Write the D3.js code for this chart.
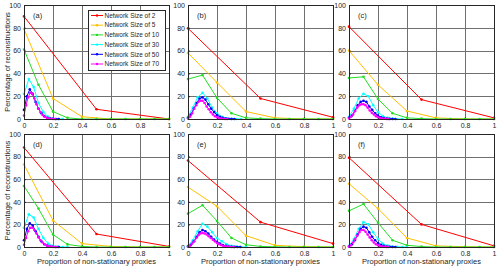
<!DOCTYPE html>
<html><head><meta charset="utf-8">
<script src="https://cdn.jsdelivr.net/npm/d3@7"></script>
<style>body{margin:0;background:#fff}svg{display:block}text{font-family:"Liberation Sans",Arial,sans-serif}</style>
</head><body>
<svg id="c" width="500" height="268"></svg>
<script>
const sizes = [2, 5, 10, 30, 50, 70];
const seriesNames = sizes.map(n => "Network Size of " + n);
const colors = ["#ff0000", "#ffc000", "#22dd22", "#00ffff", "#0000ff", "#ff00ff"];
const panelLabels = ["(a)", "(b)", "(c)", "(d)", "(e)", "(f)"];
const xTicks = [0, 0.2, 0.4, 0.6, 0.8, 1];
const xTickLabels = ["0", "0.2", "0.4", "0.6", "0.8", "1"];
const yTicks = [0, 20, 40, 60, 80, 100];

// values per panel, per network size; the i-th value is at proportion i/N
const panelA = [
  [90, 8.5, 0],
  [79, 18, 2, 0, 0, 0],
  [61, 30, 6.5, 1, 0, 0, 0, 0, 0, 0, 0],
  [22, 35, 28, 14, 6, 2, 0.5, 0, 0],
  [8, 20, 26, 22, 15, 9, 5, 2.5, 1, 0.5, 0.2, 0, 0],
  [3, 12, 19, 23, 22, 18, 13, 9, 6, 3.5, 2, 1, 0.5, 0.2, 0, 0]
];
const panelB = [
  [79.5, 18, 1.5],
  [58, 32, 6.5, 1, 0, 0],
  [35, 38.5, 18.5, 5, 1, 0.3, 0, 0, 0, 0, 0],
  [2, 10, 19, 23, 18, 10, 5, 2, 0.7, 0.2, 0, 0],
  [1, 4, 9, 14, 18, 19, 17, 13, 9, 6, 3.5, 2, 1, 0.5, 0.2, 0, 0],
  [0.5, 2, 5, 9, 12, 15, 16, 16, 14, 11, 8.5, 6, 4, 2.5, 1.5, 0.8, 0.4, 0.2, 0, 0]
];
const panelC = [
  [81, 17, 1],
  [60, 30, 7, 1, 0, 0],
  [36, 37, 17.5, 5, 1, 0.3, 0, 0, 0, 0, 0],
  [2, 9, 18, 22, 20, 12, 6, 2.5, 1, 0.3, 0, 0],
  [1, 3, 7, 12, 15, 16, 15, 11, 8, 5, 3, 1.5, 0.8, 0.3, 0.1, 0, 0],
  [0.5, 2, 4, 7, 10, 12, 13, 13, 12, 10, 7.5, 5.5, 4, 2.5, 1.5, 0.8, 0.4, 0.2, 0, 0]
];
const panelD = [
  [88, 11.5, 0.5],
  [73, 23.5, 3, 0.5, 0, 0],
  [54, 34, 11, 2.3, 0.5, 0, 0, 0, 0, 0, 0],
  [17, 29, 26, 16, 8, 3, 1, 0.3, 0, 0],
  [6, 16, 21, 19, 14, 9, 5, 2.5, 1.2, 0.5, 0.2, 0, 0],
  [2, 8, 14, 17, 17, 15, 12, 8.5, 6, 4, 2.5, 1.3, 0.7, 0.3, 0.1, 0, 0]
];
const panelE = [
  [76.5, 22, 3],
  [53, 36, 10, 1.5, 0.3, 0],
  [29.5, 37, 23, 8, 2, 0.5, 0.2, 0, 0, 0, 0],
  [1, 6, 14, 20.5, 18, 13, 8, 5, 2.5, 1, 0.4, 0, 0],
  [0.5, 2, 5, 9, 13, 15, 14, 12, 9, 6.5, 4.5, 3, 1.8, 1, 0.5, 0.2, 0.1, 0, 0],
  [0.2, 1, 3, 5, 8, 10.5, 12, 12.5, 12, 11, 9.5, 8, 6.5, 5, 3.5, 2.5, 1.7, 1, 0.6, 0.3, 0.2, 0, 0]
];
const panelF = [
  [79, 20, 1],
  [56, 34, 8, 1, 0.2, 0],
  [32, 38, 21.5, 6, 1.5, 0.4, 0, 0, 0, 0, 0],
  [1, 7, 16, 22, 20, 13, 7, 3, 1.2, 0.5, 0.2, 0, 0],
  [0.5, 2.5, 6, 11, 16, 18, 17, 13, 9, 6, 3.5, 2, 1, 0.5, 0.2, 0, 0],
  [0.3, 1.5, 4, 7, 10, 13, 15, 15, 13.5, 11, 8.5, 6, 4, 2.5, 1.5, 0.8, 0.4, 0.2, 0, 0]
];
const panels = [panelA, panelB, panelC, panelD, panelE, panelF];

const svg = d3.select("#c");
const colX = [24, 188, 349], pw = 145;
const rowY = [5, 134], ph = [114, 113];

panels.forEach((pdata, pi) => {
  const col = pi % 3, row = Math.floor(pi / 3);
  const x0 = colX[col], y0 = rowY[row], h = ph[row];
  const x = d3.scaleLinear().domain([0, 1]).range([x0, x0 + pw]);
  const y = d3.scaleLinear().domain([0, 100]).range([y0 + h, y0]);
  const g = svg.append("g");
  // grid
  g.selectAll(".gx").data(xTicks.slice(1, -1)).join("line")
    .attr("x1", d => Math.round(x(d)) + 0.5).attr("x2", d => Math.round(x(d)) + 0.5).attr("y1", y0).attr("y2", y0 + h)
    .attr("stroke", "#707070").attr("stroke-width", 1);
  g.selectAll(".gy").data(yTicks.slice(1, -1)).join("line")
    .attr("y1", d => Math.round(y(d)) + 0.5).attr("y2", d => Math.round(y(d)) + 0.5).attr("x1", x0).attr("x2", x0 + pw)
    .attr("stroke", "#707070").attr("stroke-width", 1);
  // axes
  const ax = g.append("g").attr("transform", `translate(0,${y0 + h})`)
    .call(d3.axisBottom(x).tickValues(xTicks).tickFormat((d, i) => xTickLabels[i]).tickSizeInner(-2).tickSizeOuter(0).tickPadding(4));
  const ay = g.append("g").attr("transform", `translate(${x0},0)`)
    .call(d3.axisLeft(y).tickValues(yTicks).tickSizeInner(-2).tickSizeOuter(0).tickPadding(3));
  [ax, ay].forEach(a => {
    a.select(".domain").remove();
    a.selectAll("text").attr("font-size", 7).attr("fill", "#262626");
    a.selectAll("line").attr("stroke", "#262626");
  });
  // series
  pdata.forEach((vals, si) => {
    const n = sizes[si];
    const pts = vals.map((v, i) => [i / n, v]);
    const line = d3.line().x(d => x(d[0])).y(d => y(d[1]));
    g.append("path").attr("d", line(pts)).attr("fill", "none")
      .attr("stroke", colors[si]).attr("stroke-width", 1);
    g.selectAll(".m" + si).data(pts).join("circle")
      .attr("cx", d => x(d[0])).attr("cy", d => y(d[1])).attr("r", 1.3)
      .attr("fill", colors[si]);
  });
  // box
  g.append("rect").attr("x", x0 + 0.5).attr("y", y0 + 0.5).attr("width", pw).attr("height", h)
    .attr("fill", "none").attr("stroke", "#262626").attr("stroke-width", 1);
  g.append("text").attr("x", x0 + 9).attr("y", y0 + 13).attr("font-size", 7.5)
    .attr("fill", "#262626").text(panelLabels[pi]);
  if (row === 1) {
    g.append("text").attr("x", x0 + pw / 2).attr("y", y0 + h + 17).attr("text-anchor", "middle")
      .attr("font-size", 7.5).attr("fill", "#262626").text("Proportion of non-stationary proxies");
  }
  if (col === 0) {
    g.append("text").attr("transform", `translate(10,${y0 + h / 2}) rotate(-90)`)
      .attr("text-anchor", "middle").attr("font-size", 7.5).attr("fill", "#262626")
      .text("Percentage of reconstructions");
  }
  if (pi === 0) {
    const lg = g.append("g");
    lg.append("rect").attr("x", 88.5).attr("y", 10.5).attr("width", 77).attr("height", 60)
      .attr("fill", "#fff").attr("stroke", "#262626").attr("stroke-width", 1);
    seriesNames.forEach((nm, si) => {
      const ly = 15.5 + si * 9.7;
      lg.append("line").attr("x1", 91).attr("x2", 103).attr("y1", ly).attr("y2", ly)
        .attr("stroke", colors[si]).attr("stroke-width", 1);
      lg.append("circle").attr("cx", 97).attr("cy", ly).attr("r", 1.2).attr("fill", colors[si]);
      lg.append("text").attr("x", 104.5).attr("y", ly).attr("dy", "0.35em").attr("font-size", 6.5)
        .attr("fill", "#262626").text(nm);
    });
  }
});
</script>
</body></html>
